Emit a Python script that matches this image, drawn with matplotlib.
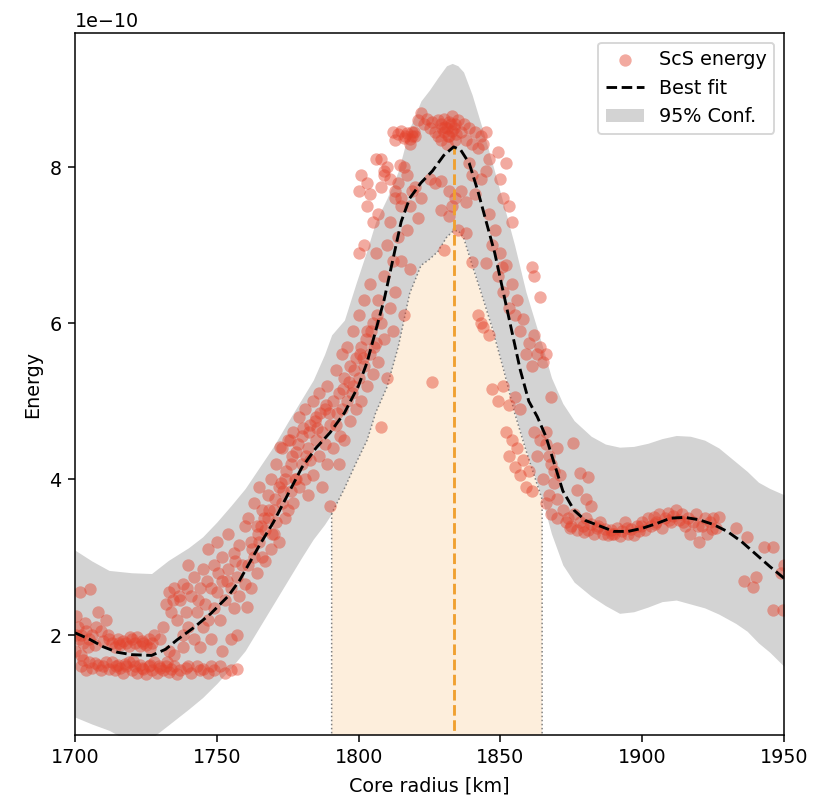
import numpy as np
import matplotlib
matplotlib.use("Agg")
import matplotlib.pyplot as plt
from matplotlib.ticker import MultipleLocator

# ScS energy picks (radius in km, energy in units of 1e-10)
scs_r = [
    # low radius, upper band
    1700.5, 1701, 1701.5, 1702, 1703, 1703.5, 1704, 1705, 1706, 1707, 1708, 1709, 1710, 1711, 1712,
    1713, 1714, 1715, 1716, 1717, 1718, 1719, 1720, 1721, 1722, 1723, 1724, 1725, 1726, 1727, 1728,
    1700, 1702, 1701.8, 1705.3, 1700.3, 1704.5, 1707.5, 1711.5, 1715.5, 1719.5, 1723.5, 1726.5,
    # low radius, lower band
    1702, 1704, 1705, 1706, 1708, 1709, 1710, 1712, 1713, 1714, 1715, 1716, 1717, 1718, 1719, 1720,
    1721, 1722, 1723, 1724, 1725, 1726, 1727, 1728, 1729, 1730, 1731, 1732, 1733, 1734, 1735, 1737,
    1739, 1741, 1743, 1745, 1747, 1749, 1751, 1753, 1755, 1757,
    1703, 1707, 1711, 1714.5, 1717.5, 1720.5, 1723.5, 1726.5, 1729.5, 1732.5, 1736, 1740, 1744, 1748,
    # rise 1730-1760
    1731, 1732, 1733, 1734, 1735, 1736, 1737, 1738, 1738, 1739, 1740, 1740, 1741, 1742, 1742, 1743,
    1744, 1745, 1745, 1746, 1747, 1747, 1748, 1749, 1749, 1750, 1750, 1751, 1752, 1752, 1753, 1754,
    1754, 1755, 1756, 1756, 1757, 1757, 1758, 1758, 1759, 1760, 1760, 1744, 1748, 1752, 1755, 1738,
    1735, 1730, 1733, 1760.6, 1734.5, 1736.5, 1739.5, 1743.5, 1746.5, 1750.5, 1753.5, 1756.5,
    # rise 1760-1790
    1761, 1761, 1762, 1762, 1763, 1763, 1764, 1764, 1765, 1765, 1766, 1766, 1767, 1767, 1768, 1768,
    1769, 1769, 1770, 1770, 1771, 1771, 1772, 1772, 1773, 1773, 1774, 1774, 1775, 1775, 1776, 1776,
    1777, 1777, 1778, 1778, 1779, 1779, 1780, 1780, 1781, 1781, 1782, 1782, 1783, 1783, 1784, 1784,
    1785, 1785, 1786, 1786, 1787, 1787, 1788, 1788, 1789, 1789, 1790, 1790, 1775.8, 1772.3,
    1762.5, 1764.5, 1766.5, 1768.5, 1770.5, 1772.5, 1774.5, 1776.5, 1778.5, 1780.5, 1782.5, 1784.5,
    1786.5, 1788.5, 1765.5, 1769.5, 1773.5, 1777.5, 1781.5, 1785.5, 1789.5,
    # left flank of the peak
    1791, 1791, 1792, 1792, 1793, 1793, 1794, 1794, 1795, 1795, 1796, 1796, 1797, 1797, 1798, 1798,
    1799, 1799, 1800, 1800, 1801, 1801, 1802, 1802, 1803, 1803, 1804, 1804, 1805, 1805, 1806, 1806,
    1807, 1807, 1808, 1808, 1809, 1809, 1810, 1810, 1811, 1811, 1812, 1812, 1813, 1813, 1814, 1814,
    1815, 1815, 1816, 1816, 1817, 1817, 1818, 1818, 1819, 1819, 1800, 1802, 1803, 1805, 1804, 1807,
    1800, 1801, 1803, 1806, 1808, 1809, 1792.5, 1794.5, 1796.5, 1798.5, 1800.5, 1802.5, 1804.5,
    1806.5, 1793.5, 1797.5, 1801.5, 1805.5,
    # top of the peak
    1812, 1813, 1814, 1815, 1816, 1817, 1818, 1819, 1820, 1821, 1822, 1823, 1824, 1825, 1826, 1827,
    1828, 1828, 1829, 1829, 1830, 1830, 1831, 1831, 1832, 1832, 1833, 1833, 1834, 1834, 1835, 1836,
    1837, 1838, 1839, 1840, 1841, 1842, 1843, 1844, 1845, 1808, 1809, 1810, 1811, 1814.6, 1813, 1815,
    1818, 1820, 1821, 1822, 1825, 1827, 1829, 1832, 1833, 1834, 1836, 1838, 1839, 1840, 1841, 1843,
    1845, 1846, 1849, 1850, 1852, 1853, 1854, 1851, 1830.5, 1831.5, 1832.5, 1833.5, 1834.5,
    1829.5, 1816.5, 1819.5,
    # right flank of the peak
    1846, 1847, 1848, 1849, 1850, 1851, 1852, 1853, 1854, 1855, 1856, 1857, 1858, 1859, 1860, 1861,
    1862, 1863, 1864, 1865, 1866, 1861, 1862, 1864, 1847, 1849, 1851, 1853, 1855, 1857, 1852, 1853,
    1854, 1855, 1856, 1857, 1858, 1859, 1860, 1861, 1862, 1863, 1864, 1865, 1866, 1867, 1868, 1868,
    1869, 1870, 1871, 1875.6, 1842, 1844, 1846, 1843, 1830, 1840, 1845, 1850.5, 1829, 1832, 1835, 1838,
    1826,
    # plateau beyond 1865
    1866, 1867, 1869, 1870, 1878, 1881, 1877, 1880, 1882, 1866, 1868, 1870, 1872, 1873, 1874, 1875,
    1876, 1877, 1878, 1879, 1880, 1881, 1882, 1883, 1884, 1885, 1886, 1887, 1888, 1889, 1890, 1891,
    1892, 1893, 1894, 1895, 1896, 1897, 1898, 1899, 1900, 1901, 1902, 1903, 1904, 1905, 1906, 1907,
    1908, 1909, 1910, 1911, 1912, 1913, 1914, 1915, 1916, 1917, 1918, 1919, 1920, 1921, 1922, 1923,
    1924, 1925, 1926, 1927, 1933, 1937, 1943, 1946, 1936, 1939, 1940, 1946, 1949.5, 1949, 1950,
    1874.5, 1879.5, 1884.5, 1889.5, 1894.5, 1899.5, 1904.5, 1909.5, 1914.5, 1919.5, 1924.5,
]
scs_e = [
    2.25, 2.1, 1.95, 2.0, 1.9, 2.15, 2.05, 1.95, 2.0, 1.88, 2.3, 2.05, 1.92, 2.2, 1.95,
    1.9, 1.85, 1.95, 1.88, 1.93, 1.9, 1.86, 1.95, 1.9, 1.98, 1.86, 1.9, 1.88, 1.95, 1.9, 2.0,
    1.8, 1.75, 2.55, 2.59, 2.0, 1.85, 2.1, 2.0, 1.9, 1.97, 1.92, 1.84,
    1.6, 1.55, 1.65, 1.58, 1.62, 1.55, 1.6, 1.57, 1.65, 1.55, 1.62, 1.58, 1.52, 1.6, 1.65, 1.55,
    1.6, 1.52, 1.62, 1.57, 1.5, 1.6, 1.55, 1.65, 1.52, 1.58, 1.55, 1.6, 1.53, 1.57, 1.6, 1.55,
    1.58, 1.52, 1.6, 1.57, 1.52, 1.55, 1.6, 1.52, 1.55, 1.57,
    1.68, 1.64, 1.66, 1.6, 1.63, 1.67, 1.58, 1.62, 1.6, 1.65, 1.5, 1.6, 1.55, 1.6,
    2.1, 2.4, 2.55, 2.3, 2.6, 2.2, 2.45, 2.0, 2.65, 2.3, 2.9, 2.1, 2.5, 2.75, 1.95, 2.3,
    2.6, 2.1, 2.85, 2.4, 3.1, 2.2, 2.6, 2.35, 2.9, 2.55, 3.2, 2.2, 2.7, 3.0, 2.45, 2.85,
    3.3, 2.6, 2.35, 3.05, 2.75, 2.0, 2.5, 3.15, 2.9, 2.65, 3.4, 1.85, 1.95, 1.8, 1.95, 1.85,
    1.75, 1.95, 1.8, 2.36, 2.45, 2.5, 2.6, 2.45, 2.7, 2.8, 2.7, 2.95,
    2.9, 3.5, 3.2, 2.6, 3.7, 3.0, 3.4, 2.8, 3.9, 3.2, 3.0, 3.6, 3.35, 2.95, 3.8, 3.5,
    3.1, 4.0, 3.6, 3.3, 4.2, 3.45, 3.9, 3.2, 3.7, 4.4, 3.5, 4.0, 4.5, 3.6, 3.85, 4.2,
    4.6, 3.7, 4.0, 4.35, 4.8, 3.9, 4.2, 4.55, 4.0, 4.9, 4.4, 3.8, 4.7, 4.25, 5.0, 4.05,
    4.5, 4.8, 4.3, 5.1, 4.6, 3.9, 4.9, 4.45, 5.2, 4.2, 4.7, 3.65, 4.5, 4.41,
    3.1, 3.3, 3.5, 3.6, 3.75, 3.95, 4.1, 4.3, 4.45, 4.65, 4.6, 4.75, 4.85, 4.95,
    3.4, 3.3, 3.85, 4.0, 4.3, 4.65, 4.85,
    5.0, 4.4, 5.4, 4.7, 5.1, 4.2, 5.6, 4.9, 5.3, 4.5, 5.7, 5.0, 5.45, 4.75, 5.2, 5.9,
    5.55, 4.9, 5.3, 6.1, 5.7, 5.0, 5.45, 6.3, 5.9, 5.2, 5.6, 6.5, 5.35, 6.0, 5.75, 6.9,
    6.3, 5.5, 4.67, 6.0, 5.8, 6.6, 5.3, 7.0, 6.2, 7.3, 5.9, 6.8, 7.6, 6.4, 7.1, 7.8,
    6.8, 7.5, 6.1, 8.0, 7.2, 7.9, 6.7, 8.3, 7.7, 8.4, 6.9, 7.0, 7.5, 7.3, 7.65, 7.4,
    7.7, 7.9, 7.8, 8.1, 7.75, 7.95, 4.85, 5.15, 5.25, 5.4, 5.6, 5.8, 5.9, 6.1,
    4.55, 5.1, 5.55, 5.7,
    8.45, 8.35, 8.42, 8.47, 8.38, 8.44, 8.36, 8.45, 8.4, 8.6, 8.7, 8.55, 8.62, 8.5, 8.58, 8.45,
    8.6, 8.4, 8.55, 8.35, 8.62, 8.45, 8.5, 8.3, 8.58, 8.4, 8.65, 8.47, 8.55, 8.35, 8.6, 8.45,
    8.55, 8.35, 8.5, 8.3, 8.45, 8.25, 8.4, 8.3, 8.45, 8.1, 7.9, 8.0, 7.85, 8.03, 7.7, 7.6,
    7.5, 7.75, 7.35, 7.6, 7.85, 7.8, 7.82, 7.7, 7.5, 7.6, 7.7, 7.55, 8.05, 7.9, 7.65, 7.85,
    7.95, 8.1, 8.2, 7.85, 8.05, 7.5, 7.3, 7.6, 8.52, 8.4, 8.55, 8.5, 8.42,
    8.5, 8.4, 8.45,
    7.4, 7.0, 7.2, 6.6, 6.9, 6.4, 6.75, 6.2, 6.5, 6.1, 6.3, 5.9, 6.05, 5.6, 5.75, 5.45,
    5.85, 5.6, 5.7, 5.5, 5.6, 6.72, 6.6, 6.33, 5.15, 5.0, 5.2, 4.95, 5.05, 4.9, 4.6, 4.3,
    4.5, 4.15, 4.4, 4.05, 4.25, 3.9, 4.1, 3.85, 4.6, 4.3, 4.5, 4.0, 4.45, 3.8, 4.2, 5.05,
    3.95, 3.75, 4.05, 4.46, 6.1, 5.95, 5.85, 6.0, 6.94, 6.78, 6.77, 6.72, 7.45, 7.38, 7.2, 7.15,
    5.24,
    4.6, 4.3, 4.1, 4.4, 4.08, 4.03, 3.86, 3.75, 3.65, 3.69, 3.55, 3.5, 3.6, 3.45, 3.5, 3.4,
    3.55, 3.35, 3.45, 3.4, 3.5, 3.35, 3.42, 3.3, 3.38, 3.45, 3.3, 3.36, 3.28, 3.35, 3.3, 3.38,
    3.27, 3.33, 3.45, 3.3, 3.36, 3.28, 3.4, 3.33, 3.45, 3.35, 3.5, 3.4, 3.52, 3.45, 3.55, 3.38,
    3.5, 3.57, 3.45, 3.53, 3.6, 3.48, 3.55, 3.4, 3.5, 3.3, 3.45, 3.55, 3.2, 3.4, 3.5, 3.3,
    3.45, 3.5, 3.38, 3.52, 3.38, 3.26, 3.13, 3.13, 2.7, 2.62, 2.75, 2.32, 2.32, 2.8, 2.9,
    3.38, 3.32, 3.4, 3.3, 3.38, 3.4, 3.42, 3.48, 3.45, 3.4, 3.36,
]

# best fit curve
fit_r = [1700, 1705, 1710, 1715, 1720, 1727, 1732, 1736, 1742, 1748, 1754, 1758, 1765, 1770,
         1775, 1780, 1785, 1790, 1795, 1800, 1803, 1806, 1809, 1812, 1815, 1818, 1822, 1826,
         1830, 1833.5, 1836, 1839, 1842, 1845, 1848, 1851, 1854, 1857, 1860, 1863, 1866, 1869,
         1872, 1876, 1880, 1885, 1890, 1895, 1900, 1905, 1910, 1915, 1920, 1925, 1930, 1935,
         1940, 1945, 1950]
fit_e = [2.03, 1.95, 1.85, 1.78, 1.75, 1.74, 1.82, 1.94, 2.1, 2.28, 2.5, 2.7, 3.15, 3.45,
         3.8, 4.15, 4.4, 4.6, 4.85, 5.2, 5.5, 5.9, 6.3, 6.8, 7.3, 7.6, 7.8, 7.95,
         8.15, 8.26, 8.22, 8.05, 7.7, 7.3, 6.9, 6.4, 5.9, 5.4, 5.0, 4.8, 4.55, 4.2,
         3.85, 3.6, 3.47, 3.4, 3.33, 3.33, 3.37, 3.43, 3.5, 3.51, 3.48, 3.42, 3.33, 3.2,
         3.04, 2.88, 2.73]

# 95% confidence band
band_r = [1700, 1706, 1712, 1720, 1727, 1733, 1740, 1745, 1750, 1755, 1760, 1765, 1770, 1775,
          1780, 1784, 1788, 1790.5, 1795, 1799, 1803, 1806, 1810, 1814, 1818, 1822, 1825, 1828,
          1831, 1833, 1835, 1837, 1840, 1844, 1847, 1851, 1855, 1859, 1864.7, 1868, 1872, 1876,
          1882, 1887, 1892, 1897, 1902, 1907, 1912, 1917, 1922, 1927, 1933, 1937, 1941, 1945, 1950]
band_hi = [3.09, 2.95, 2.83, 2.8, 2.79, 2.96, 3.12, 3.26, 3.45, 3.66, 3.88, 4.15, 4.42, 4.73,
           5.03, 5.27, 5.6, 5.85, 6.04, 6.5, 6.94, 7.3, 7.6, 7.95, 8.5, 8.85, 8.99, 9.15,
           9.3, 9.33, 9.3, 9.22, 8.93, 8.45, 8.07, 7.54, 7.0, 6.4, 5.72, 5.3, 4.97, 4.75,
           4.55, 4.45, 4.41, 4.42, 4.46, 4.52, 4.56, 4.55, 4.5, 4.4, 4.22, 4.1, 3.96, 3.88, 3.8]
band_lo = [0.95, 0.86, 0.78, 0.62, 0.68, 0.85, 1.05, 1.2, 1.38, 1.58, 1.8, 2.1, 2.4, 2.7,
           3.0, 3.23, 3.42, 3.56, 3.88, 4.2, 4.5, 4.85, 5.18, 5.7, 6.38, 6.74, 6.82, 6.92,
           7.1, 7.17, 7.19, 7.1, 6.75, 6.3, 5.95, 5.42, 4.85, 4.37, 3.74, 3.3, 2.9, 2.68,
           2.5, 2.38, 2.28, 2.3, 2.36, 2.43, 2.45, 2.4, 2.35, 2.27, 2.15, 2.05, 1.9, 1.78, 1.6]

# radius range shaded under the band
core_lo, core_hi = 1790.5, 1864.7

scale = 1e-10
scs_r = np.array(scs_r)
scs_e = np.array(scs_e) * scale
fit_r = np.array(fit_r)
fit_e = np.array(fit_e) * scale
band_r = np.array(band_r)
band_hi = np.array(band_hi) * scale
band_lo = np.array(band_lo) * scale

dpi = 137.33
fig = plt.figure(figsize=(824 / dpi, 801 / dpi), dpi=dpi)
ax = fig.add_axes([0.091, 0.0824, 0.8605, 0.8764])

ax.fill_between(band_r, band_lo, band_hi, color='#d3d3d3', lw=0, label='95% Conf.', zorder=1)
inside = (band_r >= core_lo) & (band_r <= core_hi)
ax.fill_between(band_r, 0, band_lo, where=inside, facecolor='#fdeedc', edgecolor='gray',
                linestyle=':', linewidth=0.8, zorder=1.5)

ax.scatter(scs_r, scs_e, s=42, color='#e4432d', alpha=0.45, linewidths=0,
           label='ScS energy', zorder=2)
ax.plot(fit_r, fit_e, 'k--', lw=1.5, label='Best fit', zorder=4)

ipk = np.argmax(fit_e)
ax.vlines(fit_r[ipk], 0, fit_e[ipk], colors='#f0a030', linestyles='--', lw=1.5, zorder=3)

ax.set_xlim(1700, 1950)
ax.set_ylim(0.72e-10, 9.72e-10)
ax.yaxis.set_major_locator(MultipleLocator(2e-10))
ax.set_xlabel('Core radius [km]', labelpad=5)
ax.set_ylabel('Energy')

h, l = ax.get_legend_handles_labels()
order = [l.index('ScS energy'), l.index('Best fit'), l.index('95% Conf.')]
ax.legend([h[i] for i in order], [l[i] for i in order], loc='upper right')

fig.savefig('out.png', dpi=dpi)
